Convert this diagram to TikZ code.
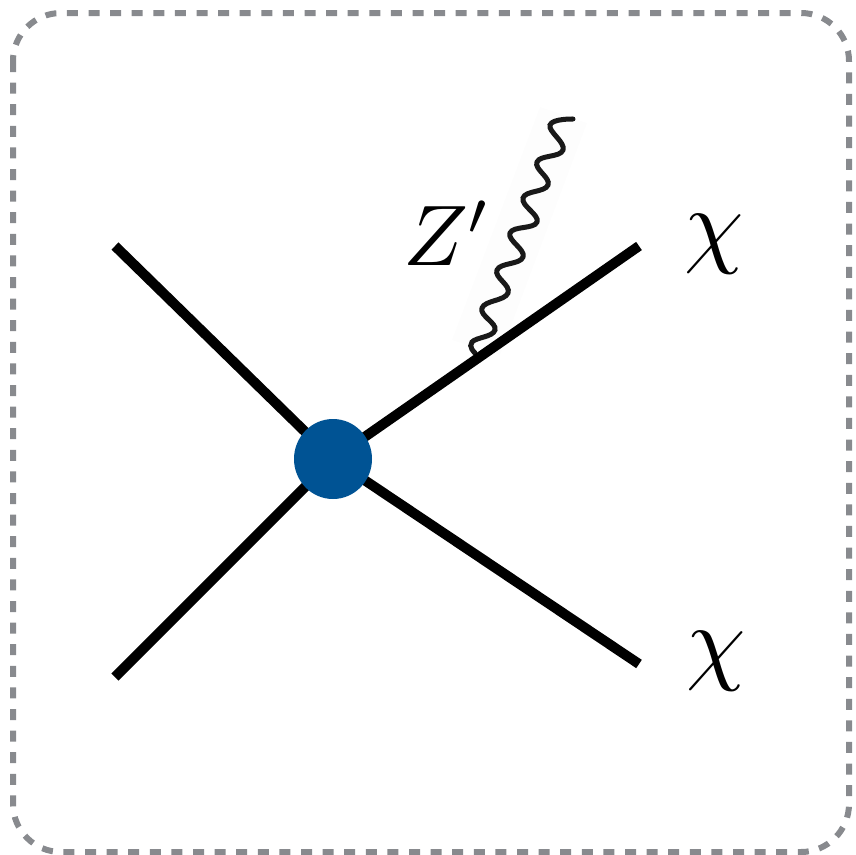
\documentclass[tikz,border=0pt]{standalone}
\usetikzlibrary{shapes.geometric}
\tikzset{
 frameline/.style={draw=framegray,line width=6pt,dash pattern=on 11pt off 10.6pt,rounded corners=48pt},
 leg/.style={line width=10pt,black},
 blob/.style={ellipse,fill=blobblue,minimum width=78pt,minimum height=80pt,inner sep=0pt},
 boson/.style={line width=5pt,black!90,line cap=round,smooth,tension=0.75},
 zlab/.style={inner sep=0pt,scale=8.6},
 chilab/.style={inner sep=0pt,scale=9.5}
}
\definecolor{blobblue}{RGB}{0,83,148}
\definecolor{framegray}{RGB}{136,138,142}
\definecolor{band}{RGB}{253,253,253}
\begin{document}
\begin{tikzpicture}[x=1pt,y=-1pt]
\useasboundingbox (0,0) rectangle (855,855);
\draw[frameline] (13,13) rectangle (849,852);
\coordinate (a) at (115,246);
\coordinate (b) at (115,677);
\coordinate (c) at (639,246);
\coordinate (d) at (639,664);
\coordinate (v) at (333,459);
\fill[band] (540,107) -- (587,123) -- (500,355) -- (452,340) -- cycle;
\draw[boson] plot coordinates {(475,353) (472,342) (495,330) (482,308) (508,293) (497,270) (523,257) (510,233) (537,222) (523,198) (548,185) (537,162) (563,150) (550,125) (573,119)};
\draw[leg] (a)--(v);
\draw[leg] (b)--(v);
\draw[leg] (c)--(v);
\draw[leg] (d)--(v);
\node[blob] (blobv) at (v) {};
\node[zlab] (zl) at (447.5,233) {$Z'$};
\node[chilab] (c1) at (714,244) {$\chi$};
\node[chilab] (c2) at (716,661) {$\chi$};
\end{tikzpicture}
\end{document}
